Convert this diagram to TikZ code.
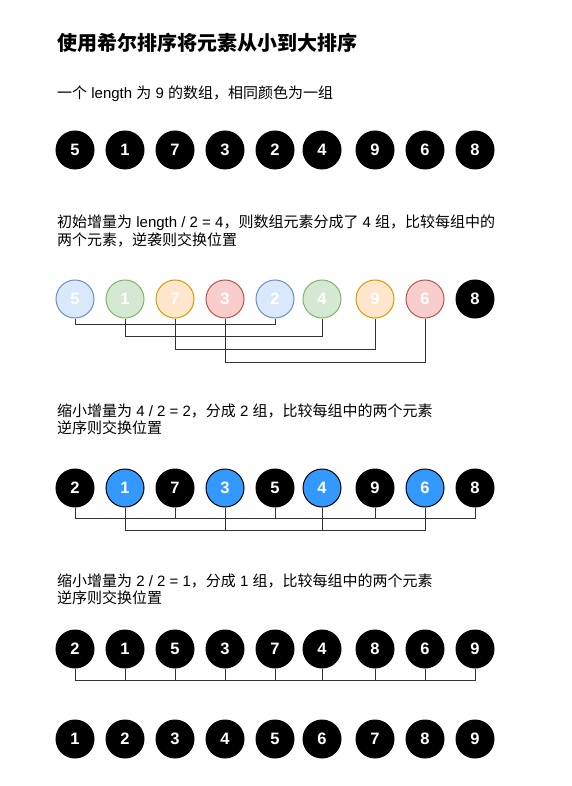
\documentclass[tikz,border=0pt]{standalone}
\usepackage{fontspec}
\setmainfont{Liberation Sans}
\newfontfamily\cjk{Noto Sans CJK SC}
\definecolor{bluef}{HTML}{DAE8FC}\definecolor{blued}{HTML}{6C8EBF}
\definecolor{greenf}{HTML}{D5E8D4}\definecolor{greend}{HTML}{82B366}
\definecolor{orangef}{HTML}{FFE6CC}\definecolor{oranged}{HTML}{D79B00}
\definecolor{redf}{HTML}{F8CECC}\definecolor{redd}{HTML}{B85450}
\definecolor{brightblue}{HTML}{3399FF}
\definecolor{wire}{HTML}{333333}
\begin{document}
\begin{tikzpicture}[x=1pt,y=-1pt,
  ball/.style={circle,minimum size=38pt,inner sep=0pt,line width=1pt,text=white,
    font=\fontsize{16.5}{16.5}\selectfont\bfseries},
  blk/.style={ball,draw=black,fill=black},
  bb/.style={ball,draw=black,fill=brightblue},
  gb/.style={ball,draw=blued,fill=bluef},
  gg/.style={ball,draw=greend,fill=greenf},
  go/.style={ball,draw=oranged,fill=orangef},
  gr/.style={ball,draw=redd,fill=redf},
  txt/.style={anchor=base west,inner sep=0pt,font=\fontsize{15}{15}\selectfont},
  ttl/.style={anchor=base west,inner sep=0pt,font=\fontsize{20}{20}\selectfont\bfseries},
  wirel/.style={draw=wire,line width=1pt}]
\useasboundingbox (0,0) rectangle (571,786);
\def\xs{{75,125,175,225,275,322,375,425,475}}
% title and texts
\node[ttl] (title) at (57,51) {\cjk\bfseries 使用希尔排序将元素从小到大排序};
\node[txt] (t1) at (57,99) {{\cjk 一个} length {\cjk 为} 9 {\cjk 的数组，相同颜色为一组}};
\node[txt] (t2a) at (57,227) {{\cjk 初始增量为} length / 2 = 4{\cjk ，则数组元素分成了} 4 {\cjk 组，比较每组中的}};
\node[txt] (t2b) at (57,245) {\cjk 两个元素，逆袭则交换位置};
\node[txt] (t3a) at (57,416) {{\cjk 缩小增量为} 4 / 2 = 2{\cjk ，分成} 2 {\cjk 组，比较每组中的两个元素}};
\node[txt] (t3b) at (57,433) {\cjk 逆序则交换位置};
\node[txt] (t4a) at (57,586) {{\cjk 缩小增量为} 2 / 2 = 1{\cjk ，分成} 1 {\cjk 组，比较每组中的两个元素}};
\node[txt] (t4b) at (57,603) {\cjk 逆序则交换位置};
% row 1
\foreach \v [count=\i from 0] in {5,1,7,3,2,4,9,6,8}{
  \pgfmathsetmacro\xx{\xs[\i]}
  \node[blk] (a\i) at (\xx,150) {\v};}
% row 2
\node[gb] (b0) at (75,299) {5};
\node[gg] (b1) at (125,299) {1};
\node[go] (b2) at (175,299) {7};
\node[gr] (b3) at (225,299) {3};
\node[gb] (b4) at (275,299) {2};
\node[gg] (b5) at (322,299) {4};
\node[go] (b6) at (375,299) {9};
\node[gr] (b7) at (425,299) {6};
\node[blk] (b8) at (475,299) {8};
\coordinate (h1) at (0,324);
\coordinate (h2) at (0,336);
\coordinate (h3) at (0,349);
\coordinate (h4) at (0,362);
\draw[wirel] (b0.south) -- (b0.south |- h1) -| (b4.south);
\draw[wirel] (b1.south) -- (b1.south |- h2) -| (b5.south);
\draw[wirel] (b2.south) -- (b2.south |- h3) -| (b6.south);
\draw[wirel] (b3.south) -- (b3.south |- h4) -| (b7.south);
% row 3
\foreach \v [count=\i from 0] in {2,1,7,3,5,4,9,6,8}{
  \pgfmathsetmacro\xx{\xs[\i]}
  \pgfmathtruncatemacro\odd{mod(\i,2)}
  \ifnum\odd=1 \node[bb] (c\i) at (\xx,488) {\v};
  \else \node[blk] (c\i) at (\xx,488) {\v};\fi}
\coordinate (h5) at (0,518);
\coordinate (h6) at (0,530);
\draw[wirel] (c0.south) -- (c0.south |- h5) -| (c8.south);
\foreach \i in {2,4,6}{\draw[wirel] (c\i.south) -- (c\i.south |- h5);}
\draw[wirel] (c1.south) -- (c1.south |- h6) -| (c7.south);
\foreach \i in {3,5}{\draw[wirel] (c\i.south) -- (c\i.south |- h6);}
% row 4
\foreach \v [count=\i from 0] in {2,1,5,3,7,4,8,6,9}{
  \pgfmathsetmacro\xx{\xs[\i]}
  \node[blk] (d\i) at (\xx,649) {\v};}
\coordinate (h7) at (0,680);
\draw[wirel] (d0.south) -- (d0.south |- h7) -| (d8.south);
\foreach \i in {1,...,7}{\draw[wirel] (d\i.south) -- (d\i.south |- h7);}
% row 5
\foreach \v [count=\i from 0] in {1,2,3,4,5,6,7,8,9}{
  \pgfmathsetmacro\xx{\xs[\i]}
  \node[blk] (e\i) at (\xx,739) {\v};}
\end{tikzpicture}
\end{document}
